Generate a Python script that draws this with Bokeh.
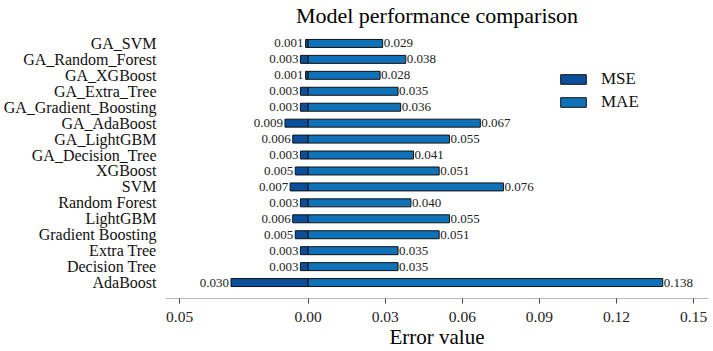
from bokeh.plotting import figure
from bokeh.models import ColumnDataSource, FixedTicker, Legend, LegendItem, Range1d
from bokeh.core.properties import value
from bokeh.embed import file_html
from bokeh.resources import INLINE

models = ["GA_SVM", "GA_Random_Forest", "GA_XGBoost", "GA_Extra_Tree", "GA_Gradient_Boosting",
          "GA_AdaBoost", "GA_LightGBM", "GA_Decision_Tree", "XGBoost", "SVM", "Random Forest",
          "LightGBM", "Gradient Boosting", "Extra Tree", "Decision Tree", "AdaBoost"]
mse = [0.001, 0.003, 0.001, 0.003, 0.003, 0.009, 0.006, 0.003, 0.005, 0.007, 0.003,
       0.006, 0.005, 0.003, 0.003, 0.030]
mae = [0.029, 0.038, 0.028, 0.035, 0.036, 0.067, 0.055, 0.041, 0.051, 0.076, 0.040,
       0.055, 0.051, 0.035, 0.035, 0.138]
x_ticks = [-0.05, 0.0, 0.03, 0.06, 0.09, 0.12, 0.15]
x_tick_labels = ["0.05", "0.00", "0.03", "0.06", "0.09", "0.12", "0.15"]

FONT = "'Liberation Serif', 'Times New Roman', Times, serif"
MSE_COLOR = "#0b4f9c"
MAE_COLOR = "#0f72b9"

n = len(models)
ypos = [n - 1 - i for i in range(n)]
src = ColumnDataSource(dict(
    y=ypos,
    mse_neg=[-v for v in mse],
    mae=mae,
    mse_lbl=["%.3f" % v for v in mse],
    mae_lbl=["%.3f" % v for v in mae],
))

p = figure(width=713, height=351, output_backend="svg", toolbar_location=None,
           x_range=Range1d(-0.0555, 0.1558), y_range=Range1d(-1.0, n - 1 + 1.0),
           min_border_left=165, min_border_right=5, min_border_top=0, min_border_bottom=0)

p.title.text = "Model performance comparison"
p.title.align = "center"
p.title.text_font = FONT
p.title.text_font_size = "22px"
p.title.text_font_style = "normal"
p.title.text_color = "black"
p.title.offset = 0
p.title.standoff = 0

r_mse = p.hbar(y="y", left="mse_neg", right=0, height=0.5, source=src,
               fill_color=MSE_COLOR, line_color="#111111", line_width=1)
r_mae = p.hbar(y="y", left=0, right="mae", height=0.5, source=src,
               fill_color=MAE_COLOR, line_color="#111111", line_width=1)

p.text(x="mse_neg", y="y", text="mse_lbl", source=src, text_align="right",
       text_baseline="middle", x_offset=-2, text_font=value(FONT),
       text_font_size="13px", text_color="#222222")
p.text(x="mae", y="y", text="mae_lbl", source=src, text_align="left",
       text_baseline="middle", x_offset=1, text_font=value(FONT),
       text_font_size="13px", text_color="#222222")

# x axis
p.xaxis.ticker = FixedTicker(ticks=x_ticks)
p.xaxis.major_label_overrides = {t: l for t, l in zip(x_ticks, x_tick_labels)}
p.xaxis.axis_label = "Error value"
p.xaxis.axis_label_text_font = FONT
p.xaxis.axis_label_text_font_size = "21px"
p.xaxis.axis_label_text_font_style = "normal"
p.xaxis.axis_label_text_color = "black"
p.xaxis.axis_label_standoff = 0
p.xaxis.major_label_text_font = FONT
p.xaxis.major_label_text_font_size = "15.5px"
p.xaxis.major_label_text_color = "#222222"
p.xaxis.axis_line_color = "#b8b8b8"
p.xaxis.major_tick_line_color = "#444444"
p.xaxis.major_tick_in = 0
p.xaxis.major_tick_out = 5
p.xaxis.minor_tick_line_color = None
p.xaxis.major_label_standoff = 8

# y axis
p.yaxis.ticker = FixedTicker(ticks=ypos)
p.yaxis.major_label_overrides = {y: m for y, m in zip(ypos, models)}
p.yaxis.major_label_text_font = FONT
p.yaxis.major_label_text_font_size = "16px"
p.yaxis.major_label_text_color = "#111111"
p.yaxis.axis_line_color = None
p.yaxis.major_tick_line_color = None
p.yaxis.minor_tick_line_color = None
p.yaxis.major_label_standoff = 3

p.xgrid.visible = False
p.ygrid.visible = False
p.outline_line_color = None

legend = Legend(items=[LegendItem(label="MSE", renderers=[r_mse]),
                       LegendItem(label="MAE", renderers=[r_mae])],
                location=(392, 186), orientation="vertical")
legend.glyph_width = 32
legend.glyph_height = 12
legend.label_height = 16
legend.spacing = 3
legend.padding = 0
legend.margin = 0
legend.label_standoff = 12
legend.label_text_font = FONT
legend.label_text_font_size = "17px"
legend.label_text_color = "#111111"
legend.border_line_color = None
legend.background_fill_alpha = 0
p.add_layout(legend, "center")

open("out.html", "w").write(file_html(p, INLINE))
